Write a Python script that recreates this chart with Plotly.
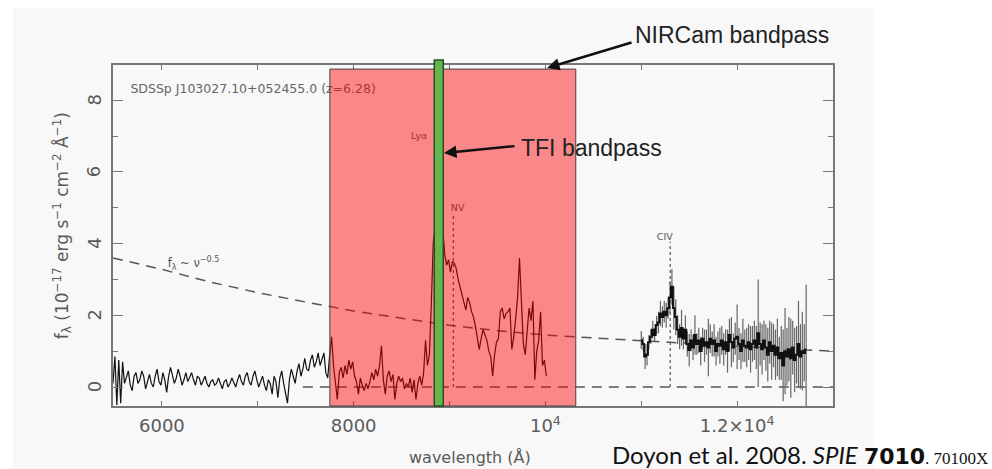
import plotly.graph_objects as go

# ---------------- data ----------------
# optical spectrum (uniformly sampled)
OPT_START = 5490
OPT_STEP = 20
opt_flux = [
    0.1, 0.85, -0.5, 0.75, -0.45, 0.7, 0.1, 0.25, 0.45, 0.05,
    -0.1, 0.3, 0.4, 0.1, 0.2, 0.45, 0.3, -0.05, 0.15, 0.35,
    0.1, 0.0, 0.3, 0.5, 0.15, 0.05, 0.4, 0.2, -0.15, 0.3,
    0.55, 0.35, 0.1, 0.25, 0.5, 0.3, 0.05, 0.2, 0.4, 0.15,
    0.3, 0.4, 0.2, 0.05, 0.3, 0.25, 0.05, 0.2, 0.3, 0.1,
    0.0, 0.15, 0.2, 0.05, 0.1, 0.25, 0.1, -0.05, 0.15, 0.2,
    0.0, 0.1, 0.25, 0.1, 0.0, 0.2, 0.35, 0.15, 0.05, 0.3,
    0.4, 0.15, 0.05, 0.3, 0.45, 0.2, 0.0, 0.15, 0.3, 0.05,
    -0.1, 0.2, 0.1, -0.2, 0.3, 0.15, -0.3, 0.25, 0.45, 0.1,
    -0.15, -0.45, 0.2, 0.5, 0.3, 0.1, 0.45, 0.65, 0.3, 0.5,
    0.8, 0.5, 0.45, 0.75, 0.9, 0.55, 0.7, 0.95, 0.6, 0.8,
    0.95, 0.4, 0.25, 0.9, 1.4, 0.6, 0.1, -0.35, 0.4, 0.55,
    0.25, 0.6, 0.35, 0.75, 0.5, 0.7, 0.3, 0.15, -0.2, 0.25,
    0.05, -0.1, 0.1, -0.05, 0.15, 0.4, 0.2, 0.5, 0.3, 0.6,
    1.15, 0.2, -0.2, 0.3, 0.45, 0.15, 0.35, -0.35, 0.1, 0.3,
    0.15, 0.25, -0.05, 0.1, 0.0, 0.25, -0.15, 0.2, -0.35, 0.1,
    0.3, 0.05, 0.4, 1.3, 0.6, 0.9, 2.3, 4.0, 4.4, 4.3,
    4.4, 4.2, 4.4, 3.7, 3.4, 3.55, 3.2, 3.5, 3.45, 3.3,
    3.0, 2.8, 2.55, 2.35, 2.15, 2.5, 2.35, 2.1, 1.95, 1.7,
    1.3, 1.05, 1.35, 1.6, 1.45, 1.3, 1.0, 0.85, 0.3, 0.9,
    1.25, 1.35, 2.1, 2.2, 1.9, 2.05, 2.1, 2.2, 1.05, 1.4,
    1.9, 2.5, 3.6, 2.2, 1.2, 0.9, 1.6, 2.2, 1.85, 2.4,
    0.2, 1.0, 1.3, 2.1, 0.6, 0.75, 0.3,
]

# near-IR spectrum (uniformly sampled) with errors
IR_START = 11000
IR_STEP = 20
ir_flux = [
    1.31, 1.2, 0.85, 0.9, 1.25, 1.4, 1.6, 1.45, 1.73, 1.8,
    2.05, 1.95, 2.1, 2.0, 2.2, 2.5, 2.8, 2.2, 1.95, 1.6,
    1.4, 1.65, 1.35, 1.6, 1.2, 1.03, 1.3, 1.1, 1.45, 1.2,
    1.3, 1.0, 1.35, 1.15, 1.25, 1.1, 1.35, 1.2, 1.3, 1.0,
    1.2, 1.15, 1.3, 1.05, 1.25, 1.0, 1.45, 1.25, 1.1, 1.35,
    1.4, 1.2, 1.0, 1.3, 1.15, 1.1, 1.25, 1.05, 1.2, 1.3,
    1.1, 1.5, 1.2, 1.05, 1.3, 1.1, 0.9, 1.25, 1.0, 1.15,
    0.9, 1.1, 0.8, 0.95, 0.6, 1.0, 0.85, 1.05, 0.8, 1.1,
    0.75, 0.9, 1.2, 0.85, 1.0, 0.95, 1.05,
]
ir_err = [
    0.25, 0.2, 0.35, 0.3, 0.2, 0.2, 0.25, 0.2, 0.25, 0.3,
    0.35, 0.3, 0.3, 0.35, 0.3, 0.45, 0.5, 0.6, 0.5, 0.4,
    0.35, 0.5, 0.3, 0.4, 0.35, 0.45, 0.3, 0.35, 0.55, 0.3,
    0.35, 0.4, 0.3, 0.45, 0.35, 0.8, 0.4, 0.35, 0.45, 0.4,
    0.35, 0.5, 0.4, 0.45, 0.35, 0.6, 0.45, 0.7, 0.4, 0.45,
    0.9, 0.45, 0.5, 0.6, 0.45, 0.55, 0.5, 0.65, 0.5, 0.55,
    0.6, 1.5, 0.6, 0.7, 0.55, 0.65, 0.75, 0.6, 0.8, 0.6,
    0.7, 0.8, 0.6, 0.75, 1.0, 1.2, 0.8, 0.9, 1.1, 0.75,
    0.9, 0.8, 1.2, 0.9, 1.1, 0.8, 1.8,
]

# power-law continuum f_lambda ~ nu^-0.5
pl_wl = [5490, 6000, 6500, 7000, 7500, 8000, 8500, 9000, 9500, 10000,
         10500, 11000, 11500, 12000, 12500, 13000]
pl_flux = [3.6, 3.28, 2.93, 2.63, 2.37, 2.12, 1.92, 1.72, 1.57, 1.45,
           1.37, 1.29, 1.2, 1.12, 1.06, 1.0]

zero_wl = [7470, 13000]
zero_flux = [0, 0]

# emission line markers
line_names = ["NV", "CIV"]
line_wl = [9040, 11302]
line_top = [4.86, 4.05]

# bandpasses (wavelength ranges, Å)
nircam_band = [7752, 10317]
tfi_band = [8841, 8935]

x_tickvals = [6000, 7000, 8000, 9000, 10000, 11000, 12000, 13000]
x_ticktext = ["6000", "", "8000", "", "10<sup>4</sup>", "", "1.2×10<sup>4</sup>", ""]
y_tickvals = [0, 2, 4, 6, 8]
y_ticktext = ["0", "2", "4", "6", "8"]
y_minor = [1, 3, 5, 7]

X_RANGE = [5490, 13000]
Y_RANGE = [-0.53, 8.98]

# ---------------- figure ----------------
opt_wl = [OPT_START + OPT_STEP * i for i in range(len(opt_flux))]
ir_wl = [IR_START + IR_STEP * i for i in range(len(ir_flux))]

GRAY = "#5a5a5a"
FONT = "DejaVu Sans"

fig = go.Figure()

fig.add_trace(go.Scatter(x=pl_wl, y=pl_flux, mode="lines",
                         line=dict(color="#555", width=1.5, dash="10px,7px"),
                         hoverinfo="skip"))
fig.add_trace(go.Scatter(x=zero_wl, y=zero_flux, mode="lines",
                         line=dict(color="#555", width=1.5, dash="10px,7px"),
                         hoverinfo="skip"))
for wl, top in zip(line_wl, line_top):
    fig.add_trace(go.Scatter(x=[wl, wl], y=[0, top], mode="lines",
                             line=dict(color="#555", width=1.2, dash="dot"),
                             hoverinfo="skip"))

fig.add_trace(go.Scatter(x=opt_wl, y=opt_flux, mode="lines",
                         line=dict(color="#111", width=1.2), hoverinfo="skip"))
fig.add_trace(go.Scatter(x=ir_wl, y=ir_flux, mode="lines",
                         line=dict(color="#111", width=1.9, shape="hvh"),
                         error_y=dict(type="data", array=ir_err, color="#666",
                                      thickness=1.2, width=0),
                         hoverinfo="skip"))

# in-plot labels (below the translucent band, so they get tinted)
fig.add_trace(go.Scatter(
    x=[5672], y=[8.28], mode="text",
    text=["SDSSp J103027.10+052455.0 (z=6.28)"], textposition="middle right",
    textfont=dict(family=FONT, size=12.5, color="#666"), hoverinfo="skip"))
fig.add_trace(go.Scatter(
    x=[8684, 9085, 11245], y=[6.97, 4.98, 4.17], mode="text",
    text=["Lyα", line_names[0], line_names[1]], textposition="middle center",
    textfont=dict(family=FONT, size=9.5, color="#555"), hoverinfo="skip"))
fig.add_trace(go.Scatter(
    x=[6330], y=[3.42], mode="text",
    text=["f<sub>λ</sub> ~ ν<sup>−0.5</sup>"], textposition="middle center",
    textfont=dict(family=FONT, size=11.5, color="#555"), hoverinfo="skip"))

shapes = [
    # slide panel
    dict(type="rect", xref="paper", yref="paper", x0=-0.139, x1=1.056,
         y0=-0.185, y1=1.167, fillcolor="#f8f8f8", line=dict(width=0),
         layer="below"),
    # NIRCam band (translucent red)
    dict(type="rect", xref="x", yref="paper", x0=nircam_band[0], x1=nircam_band[1],
         y0=0, y1=0.988, fillcolor="rgba(255,0,0,0.45)",
         line=dict(color="#444", width=1), layer="above"),
    # TFI band (green)
    dict(type="rect", xref="x", yref="paper", x0=tfi_band[0], x1=tfi_band[1],
         y0=0, y1=1.015, fillcolor="#62b84e",
         line=dict(color="#2d4a28", width=1.5), layer="above"),
]

annotations = [
    dict(xref="paper", yref="paper", x=0.7222, y=1.088, xanchor="left",
         yanchor="middle", text="NIRCam bandpass", showarrow=False,
         font=dict(family="Liberation Sans", size=23, color="#222")),
    dict(xref="paper", yref="paper", x=0.6028, y=0.9912, text="",
         showarrow=True, ax=86, ay=-26, arrowhead=2, arrowsize=1,
         arrowwidth=2.5, arrowcolor="#111"),
    dict(xref="paper", yref="paper", x=0.5639, y=0.7566, xanchor="left",
         yanchor="middle", text="TFI bandpass", showarrow=False,
         font=dict(family="Liberation Sans", size=23, color="#222")),
    dict(xref="paper", yref="paper", x=0.4597, y=0.742, text="",
         showarrow=True, ax=72, ay=-7, arrowhead=2, arrowsize=1,
         arrowwidth=2.5, arrowcolor="#111"),
    # axis titles
    dict(xref="paper", yref="paper", x=0.496, y=-0.152, xanchor="center",
         yanchor="middle", text="wavelength (Å)", showarrow=False,
         font=dict(family=FONT, size=16, color=GRAY)),
    dict(xref="paper", yref="paper", x=-0.071, y=0.53, xanchor="center",
         yanchor="middle", textangle=-90, showarrow=False,
         text="f<sub>λ</sub> (10<sup>−17</sup> erg s<sup>−1</sup> cm<sup>−2</sup> Å<sup>−1</sup>)",
         font=dict(family=FONT, size=17, color=GRAY)),
    # citation
    dict(xref="paper", yref="paper", x=1.218, y=-0.141, xanchor="right",
         yanchor="middle", showarrow=False,
         text="Doyon et al. 2008. <i>SPIE</i> "
              "<b><span style=\"font-family:'DejaVu Sans';font-size:22px\">7010</span></b>"
              "<span style=\"font-family:'Liberation Serif';font-size:17px\">. 70100X</span>",
         font=dict(family="Lato", size=24, color="#111")),
]

# rotated y tick labels (IDL style)
for val, lab in zip(y_tickvals, y_ticktext):
    annotations.append(dict(xref="paper", yref="y", x=-0.026, y=val,
                            xanchor="center", yanchor="middle", text=lab,
                            textangle=-90, showarrow=False,
                            font=dict(family=FONT, size=18, color=GRAY)))

fig.update_layout(
    width=992, height=469,
    margin=dict(l=113, r=159, t=65, b=63),
    paper_bgcolor="white", plot_bgcolor="#f8f8f8",
    showlegend=False,
    shapes=shapes, annotations=annotations,
    xaxis=dict(range=X_RANGE, tickvals=x_tickvals, ticktext=x_ticktext,
               ticks="inside", ticklen=5, tickwidth=1, tickcolor="#777",
               showline=True, linecolor="#777", linewidth=1.5, mirror="ticks",
               showgrid=False, zeroline=False, ticklabelstandoff=3,
               tickfont=dict(family=FONT, size=18, color=GRAY)),
    yaxis=dict(range=Y_RANGE, tickvals=y_tickvals, showticklabels=False,
               ticks="inside", ticklen=10, tickwidth=1, tickcolor="#777",
               minor=dict(tickvals=y_minor, ticks="inside", ticklen=5,
                          tickcolor="#777", showgrid=False),
               showline=True, linecolor="#777", linewidth=1.5, mirror="ticks",
               showgrid=False, zeroline=False),
)

fig.write_html("out.html")
